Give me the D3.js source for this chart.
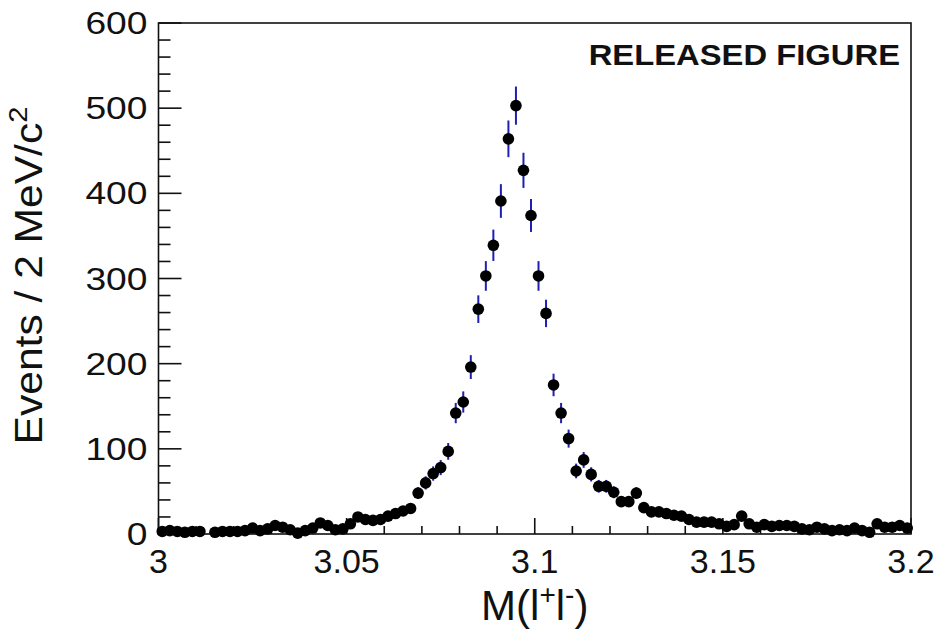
<!DOCTYPE html>
<html>
<head>
<meta charset="utf-8">
<script src="https://cdn.jsdelivr.net/npm/d3@7"></script>
<style>
  body { margin: 0; background: #fff; }
  svg { display: block; font-family: "Liberation Sans", Arial, sans-serif; }
</style>
</head>
<body>
<svg width="939" height="630"></svg>
<script>
// histogram: 100 bins of 2 MeV between 3.0 and 3.2
const binStart = 3.0;
const binWidth = 0.002;
const counts = [
  3, 4, 3, 2, 3, 3, 0, 2, 3, 3,
  3, 4, 7, 4, 6, 10, 8, 5, 1, 4,
  7, 13, 10, 5, 6, 12, 20, 17, 16, 17,
  21, 24, 27, 30, 48, 60, 71, 78, 97, 142,
  155, 196, 264, 303, 339, 391, 464, 503, 427, 374,
  303, 259, 175, 142, 112, 74, 87, 70, 56, 56,
  49, 38, 38, 48, 31, 26, 26, 24, 22, 21,
  17, 14, 14, 14, 12, 9, 11, 21, 12, 8,
  11, 9, 10, 10, 9, 6, 5, 8, 6, 4,
  5, 4, 7, 4, 2, 12, 8, 8, 10, 7
];
const xTicks = [3, 3.05, 3.1, 3.15, 3.2];
const xTickLabels = ["3", "3.05", "3.1", "3.15", "3.2"];
const yTicks = [0, 100, 200, 300, 400, 500, 600];

const margin = { top: 23, right: 28, bottom: 96, left: 158.5 };
const width = 939 - margin.left - margin.right;
const height = 630 - margin.top - margin.bottom;

const x = d3.scaleLinear().domain([3.0, 3.2]).range([0, width]);
const y = d3.scaleLinear().domain([0, 600]).range([height, 0]);

const svg = d3.select("svg");
const chart = svg.append("g")
  .attr("transform", "translate(" + margin.left + "," + margin.top + ")");

const data = counts.map((c, i) => ({ m: binStart + (i + 0.5) * binWidth, n: c }));

// frame
chart.append("rect")
  .attr("width", width).attr("height", height)
  .attr("fill", "none").attr("stroke", "#111").attr("stroke-width", 1.6);

// ticks (ROOT style: inside the frame)
const xMinor = d3.range(0, 21).map(i => 3.0 + i * 0.01);
chart.selectAll(".xt").data(xMinor).enter().append("line")
  .attr("x1", d => x(d)).attr("x2", d => x(d))
  .attr("y1", height)
  .attr("y2", (d, i) => height - (i % 5 === 0 ? 16 : 8))
  .attr("stroke", "#111").attr("stroke-width", 1.6);

const yMinor = d3.range(0, 31).map(i => i * 20);
chart.selectAll(".yt").data(yMinor).enter().append("line")
  .attr("y1", d => y(d)).attr("y2", d => y(d))
  .attr("x1", 0)
  .attr("x2", (d, i) => (i % 5 === 0 ? 23 : 12))
  .attr("stroke", "#111").attr("stroke-width", 1.6);

// tick labels
chart.selectAll(".xl").data(xTicks).enter().append("text")
  .attr("x", d => x(d)).attr("y", height + 39)
  .attr("text-anchor", "middle")
  .attr("font-size", 34).attr("fill", "#111")
  .text((d, i) => xTickLabels[i]);

// y labels are a bit wider in the original, so stretch them
chart.selectAll(".yl").data(yTicks).enter().append("text")
  .attr("transform", d => "translate(-11," + y(d) + ") scale(1.2,1)")
  .attr("dy", "0.36em")
  .attr("text-anchor", "end")
  .attr("font-size", 31).attr("fill", "#111")
  .text(d => d);

// axis titles
const xt = svg.append("text")
  .attr("x", margin.left + width / 2).attr("y", 620)
  .attr("text-anchor", "middle")
  .attr("font-size", 42).attr("fill", "#111");
xt.append("tspan").text("M(l");
xt.append("tspan").attr("dy", -16).attr("font-size", 28).text("+");
xt.append("tspan").attr("dy", 16).text("l");
xt.append("tspan").attr("dy", -16).attr("font-size", 28).text("-");
xt.append("tspan").attr("dy", 16).text(")");

const yt = svg.append("text")
  .attr("transform", "translate(42," + (margin.top + height / 2 - 3) + ") rotate(-90) scale(1.12,1)")
  .attr("text-anchor", "middle")
  .attr("font-size", 38).attr("fill", "#111");
yt.append("tspan").text("Events / 2 MeV/c");
yt.append("tspan").attr("dy", -15).attr("font-size", 26).text("2");

svg.append("text")
  .attr("transform", "translate(900,65) scale(1.13,1)")
  .attr("text-anchor", "end")
  .attr("font-size", 29).attr("font-weight", "bold").attr("fill", "#111")
  .text("RELEASED FIGURE");

// error bars + markers
const pts = data.filter(d => d.n > 0);
chart.selectAll(".err").data(pts).enter().append("line")
  .attr("x1", d => x(d.m)).attr("x2", d => x(d.m))
  .attr("y1", d => y(d.n + Math.sqrt(d.n)))
  .attr("y2", d => y(Math.max(0, d.n - Math.sqrt(d.n))))
  .attr("stroke", "#1f1fb4").attr("stroke-width", 2);

chart.selectAll(".pt").data(pts).enter().append("circle")
  .attr("cx", d => x(d.m)).attr("cy", d => y(d.n))
  .attr("r", 5.8).attr("fill", "#000");
</script>
</body>
</html>
